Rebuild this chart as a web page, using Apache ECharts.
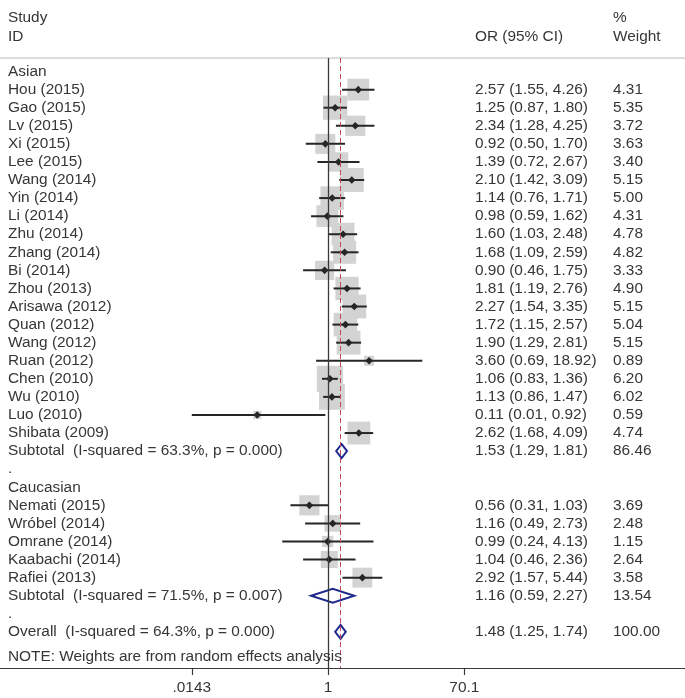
<!DOCTYPE html>
<html><head><meta charset="utf-8">
<script src="https://cdn.jsdelivr.net/npm/echarts@6/dist/echarts.min.js"></script>
<style>html,body{margin:0;padding:0;background:#fff}#c{width:685px;height:698px}</style>
</head><body><div id="c"></div><script>
// ---------- data ----------
const groupNames = ['Asian', 'Caucasian'];
const groupSizes = [20, 5];
const studyNames = ['Hou (2015)','Gao (2015)','Lv (2015)','Xi (2015)','Lee (2015)','Wang (2014)','Yin (2014)','Li (2014)','Zhu (2014)','Zhang (2014)','Bi (2014)','Zhou (2013)','Arisawa (2012)','Quan (2012)','Wang (2012)','Ruan (2012)','Chen (2010)','Wu (2010)','Luo (2010)','Shibata (2009)',
  'Nemati (2015)','Wróbel (2014)','Omrane (2014)','Kaabachi (2014)','Rafiei (2013)'];
const studyOR = [2.57,1.25,2.34,0.92,1.39,2.10,1.14,0.98,1.60,1.68,0.90,1.81,2.27,1.72,1.90,3.60,1.06,1.13,0.11,2.62, 0.56,1.16,0.99,1.04,2.92];
const studyLo = [1.55,0.87,1.28,0.50,0.72,1.42,0.76,0.59,1.03,1.09,0.46,1.19,1.54,1.15,1.29,0.69,0.83,0.86,0.01,1.68, 0.31,0.49,0.24,0.46,1.57];
const studyHi = [4.26,1.80,4.25,1.70,2.67,3.09,1.71,1.62,2.48,2.59,1.75,2.76,3.35,2.57,2.81,18.92,1.36,1.47,0.92,4.09, 1.03,2.73,4.13,2.36,5.44];
const studyWeight = [4.31,5.35,3.72,3.63,3.40,5.15,5.00,4.31,4.78,4.82,3.33,4.90,5.15,5.04,5.15,0.89,6.20,6.02,0.59,4.74, 3.69,2.48,1.15,2.64,3.58];
const subtotalLabels = ['Subtotal  (I-squared = 63.3%, p = 0.000)', 'Subtotal  (I-squared = 71.5%, p = 0.007)'];
const subtotalOR = [1.53, 1.16];
const subtotalLo = [1.29, 0.59];
const subtotalHi = [1.81, 2.27];
const subtotalWeight = [86.46, 13.54];
const overallLabel = 'Overall  (I-squared = 64.3%, p = 0.000)';
const overallOR = [1.48];
const overallLo = [1.25];
const overallHi = [1.74];
const overallWeight = [100.00];
const noteText = 'NOTE: Weights are from random effects analysis';
const tickValues = [0.0143, 1, 70.1];
const tickLabels = ['.0143', '1', '70.1'];
const headerLeft = ['Study', 'ID'];
const headerMid = 'OR (95% CI)';
const headerRight = ['%', 'Weight'];

// ---------- layout ----------
const ln = Math.log;
const pxPerLn = 136.3 / ln(70.1);
const nullX = 328;
const xMin = -nullX / pxPerLn;
const xMax = (685 - nullX) / pxPerLn;
const lnLimLo = ln(tickValues[0]), lnLimHi = ln(tickValues[tickValues.length - 1]);
const FONT_FAMILY = '"Liberation Sans", Arial, sans-serif';
const FONT = '15.4px ' + FONT_FAMILY;
const TXT = '#363636';
const fmt = v => v.toFixed(2);
const ciText = (o, l, h) => fmt(o) + ' (' + fmt(l) + ', ' + fmt(h) + ')';

// build rows
const textRows = [];
const studyData = [];
const diamondData = [];
textRows.push({row: -3.95, a: headerLeft[0], c: headerRight[0]});
textRows.push({row: -2.9, a: headerLeft[1], b: headerMid, c: headerRight[1]});
let row = -1, si = 0;
groupNames.forEach((g, gi) => {
  textRows.push({row: row, a: g});
  row++;
  for (let k = 0; k < groupSizes[gi]; k++, si++, row++) {
    textRows.push({row: row, a: studyNames[si], b: ciText(studyOR[si], studyLo[si], studyHi[si]), c: fmt(studyWeight[si])});
    studyData.push([ln(studyOR[si]), row, ln(studyLo[si]), ln(studyHi[si]), studyWeight[si]]);
  }
  textRows.push({row: row, a: subtotalLabels[gi], b: ciText(subtotalOR[gi], subtotalLo[gi], subtotalHi[gi]), c: fmt(subtotalWeight[gi])});
  diamondData.push([ln(subtotalOR[gi]), row, ln(subtotalLo[gi]), ln(subtotalHi[gi])]);
  row++;
  textRows.push({row: row, a: '.'});
  row++;
});
textRows.push({row: row, a: overallLabel, b: ciText(overallOR[0], overallLo[0], overallHi[0]), c: fmt(overallWeight[0])});
diamondData.push([ln(overallOR[0]), row, ln(overallLo[0]), ln(overallHi[0])]);
textRows.push({row: row + 1.38, a: noteText});

const chart = echarts.init(document.getElementById('c'), null, {renderer: 'canvas'});
const tickLn = tickValues.map(v => ln(v));
const axisCommon = {type: 'value', min: xMin, max: xMax, splitLine: {show: false}};

chart.setOption({
  animation: false,
  backgroundColor: '#fff',
  grid: {left: 0, right: 0, top: 58, bottom: 30, containLabel: false},
  xAxis: [
    Object.assign({}, axisCommon, {
      position: 'bottom',
      axisLine: {show: true, onZero: false, lineStyle: {color: '#3a3a3a', width: 1.2}},
      axisTick: {show: true, customValues: tickLn, length: 7, inside: false, lineStyle: {color: '#3a3a3a', width: 1.2}},
      axisLabel: {show: true, customValues: tickLn, margin: 12, color: TXT, fontSize: 15.4, fontFamily: FONT_FAMILY,
        formatter: v => {
          let best = 0;
          tickLn.forEach((t, i) => { if (Math.abs(t - v) < Math.abs(tickLn[best] - v)) best = i; });
          return tickLabels[best];
        }}
    }),
    Object.assign({}, axisCommon, {
      position: 'top',
      axisLine: {show: true, onZero: false, lineStyle: {color: '#dcdcdc', width: 2}},
      axisTick: {show: false}, axisLabel: {show: false}
    })
  ],
  yAxis: {type: 'value', inverse: true, min: -1.75, max: 32, show: false},
  series: [
    {
      type: 'line', data: [], z: 1,
      markLine: {
        silent: true, symbol: 'none', label: {show: false}, animation: false,
        data: [
          {xAxis: 0, lineStyle: {color: '#3a3a3a', width: 1.3, type: 'solid'}},
          {xAxis: ln(overallOR[0]), lineStyle: {color: '#c4475a', width: 1, type: [5, 3]}}
        ]
      }
    },
    {
      type: 'custom', z: 3, clip: false,
      data: studyData,
      encode: {x: 0, y: 1},
      renderItem: (params, api) => {
        const y = api.value(1);
        const c = api.coord([api.value(0), y]);
        const lo = api.coord([Math.max(api.value(2), lnLimLo), y]);
        const hi = api.coord([Math.min(api.value(3), lnLimHi), y]);
        const s = 10.5 * Math.sqrt(api.value(4));
        const r = 3.8;
        return {type: 'group', children: [
          {type: 'rect', shape: {x: c[0] - s / 2, y: c[1] - s / 2, width: s, height: s}, style: {fill: '#d3d3d3'}},
          {type: 'line', shape: {x1: lo[0], y1: c[1], x2: hi[0], y2: c[1]}, style: {stroke: '#262626', lineWidth: 2}},
          {type: 'polygon', shape: {points: [[c[0] - r, c[1]], [c[0], c[1] - r], [c[0] + r, c[1]], [c[0], c[1] + r]]}, style: {fill: '#262626'}}
        ]};
      }
    },
    {
      type: 'custom', z: 4, clip: false,
      data: diamondData,
      encode: {x: 0, y: 1},
      renderItem: (params, api) => {
        const y = api.value(1);
        const c = api.coord([api.value(0), y]);
        const lo = api.coord([api.value(2), y]);
        const hi = api.coord([api.value(3), y]);
        const h = 7;
        return {type: 'polygon', shape: {points: [[lo[0], c[1]], [c[0], c[1] - h], [hi[0], c[1]], [c[0], c[1] + h]]},
          style: {fill: 'none', stroke: '#1f2a8c', lineWidth: 2}};
      }
    },
    {
      type: 'custom', z: 5, clip: false,
      data: textRows.map(t => [0, t.row]),
      encode: {x: 0, y: 1},
      renderItem: (params, api) => {
        const t = textRows[params.dataIndex];
        const y = api.coord([0, t.row])[1];
        const kids = [];
        const mk = (x, s) => ({type: 'text', x: x, y: y, style: {text: s, font: FONT, fill: TXT, verticalAlign: 'middle', align: 'left'}});
        if (t.a) kids.push(mk(8, t.a));
        if (t.b) kids.push(mk(475, t.b));
        if (t.c) kids.push(mk(613, t.c));
        return {type: 'group', children: kids};
      }
    }
  ]
});
</script></body></html>
